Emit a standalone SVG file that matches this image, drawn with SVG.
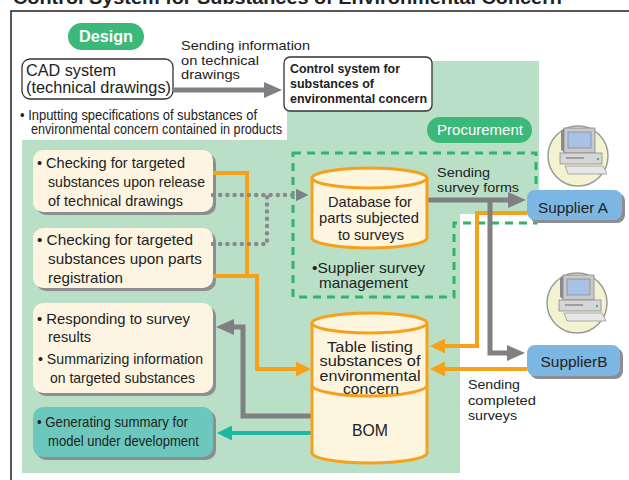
<svg xmlns="http://www.w3.org/2000/svg" width="629" height="480" viewBox="0 0 629 480">
<style>
text{font-family:"Liberation Sans",Arial,sans-serif;fill:#222}
.bx{font-size:15px}
.tb{font-size:14px}
.sm{font-size:13.5px}
.wh{fill:#fff}
.cyl{fill:#fdf5de;stroke:#f7a11a;stroke-width:3}
.card{fill:#fdf5e1}
.shd{fill:#8e8e92}
.sup{fill:#7cb6e3}
.gl{fill:none;stroke:#7f7f84;stroke-width:5}
.ol{fill:none;stroke:#f7a11a;stroke-width:4}
.tl{fill:none;stroke:#1db7a2;stroke-width:4}
.dl{fill:none;stroke:#8a8a8e;stroke-width:4.5;stroke-linecap:round;stroke-dasharray:0 7.2}
</style>
<defs>
<marker id="ag" markerUnits="userSpaceOnUse" viewBox="0 0 18 16" markerWidth="18" markerHeight="16" refX="1" refY="8" orient="auto"><path d="M0,0 L18,8 L0,16 Z" fill="#7f7f84"/></marker>
<marker id="ad" markerUnits="userSpaceOnUse" viewBox="0 0 13 13" markerWidth="13" markerHeight="13" refX="1" refY="6.5" orient="auto"><path d="M0,0 L13,6.5 L0,13 Z" fill="#7f7f84"/></marker>
<marker id="ao" markerUnits="userSpaceOnUse" viewBox="0 0 15 15" markerWidth="15" markerHeight="15" refX="1" refY="7.5" orient="auto"><path d="M0,0 L15,7.5 L0,15 Z" fill="#f7a11a"/></marker>
<marker id="at" markerUnits="userSpaceOnUse" viewBox="0 0 15 15" markerWidth="15" markerHeight="15" refX="1" refY="7.5" orient="auto"><path d="M0,0 L15,7.5 L0,15 Z" fill="#1db7a2"/></marker>
<g id="pc">
<circle cx="0" cy="0" r="30" fill="#f3f3d1" stroke="#9a9a9a" stroke-width="1.5"/>
<polygon points="-17,-24 -14,-28 -14,-4 -17,-6" fill="#8a8a8f"/>
<rect x="-14" y="-28" width="31" height="25" fill="#c9c9cc" stroke="#8a8a8a" stroke-width="0.8"/>
<rect x="-10" y="-24" width="23" height="16" fill="#a9c1e4" stroke="#7a7a80" stroke-width="0.6"/>
<rect x="-18" y="-3" width="42" height="11" fill="#d6d6d8" stroke="#8a8a8a" stroke-width="0.8"/>
<line x1="-12" y1="2" x2="6" y2="2" stroke="#666" stroke-width="1"/>
<circle cx="20" cy="3" r="1.2" fill="#3c3"/>
<polygon points="-13,10 25,10 29,18 -10,18" fill="#e6e6e8" stroke="#999" stroke-width="0.8"/>
</g>
</defs>
<rect width="629" height="480" fill="#fff"/>
<text x="13" y="4" font-size="18" font-weight="bold" textLength="549" lengthAdjust="spacingAndGlyphs">Control System for Substances of Environmental Concern</text>
<path d="M11,480 V11 H629" fill="none" stroke="#222" stroke-width="1.5"/>
<polygon points="287,61 539,61 539,214 460,214 460,473 22,473 22,140 287,140" fill="#b9e0c6"/>
<polygon points="293,153 536,153 536,223 454,223 454,297 293,297" fill="none" stroke="#2fb46a" stroke-width="3" stroke-dasharray="8 6"/>

<g id="design-label">
<rect x="68" y="23" width="76" height="27" rx="13.5" fill="#3cb878"/>
<text x="106" y="42" font-size="16" font-weight="bold" class="wh" text-anchor="middle" textLength="54" lengthAdjust="spacingAndGlyphs">Design</text>
</g>
<g id="procurement-label">
<rect x="427" y="117" width="105" height="26" rx="13" fill="#3cb878"/>
<text x="480" y="135" font-size="15" class="wh" text-anchor="middle" textLength="86" lengthAdjust="spacingAndGlyphs">Procurement</text>
</g>

<g id="cad">
<rect x="22" y="59" width="151" height="40" rx="8" fill="#fff" stroke="#333" stroke-width="1.3"/>
<text x="26" y="76" font-size="16" textLength="90" lengthAdjust="spacingAndGlyphs">CAD system</text>
<text x="26" y="93" font-size="16" textLength="145" lengthAdjust="spacingAndGlyphs">(technical drawings)</text>
</g>
<g id="cad-note">
<text x="20" y="120" font-size="14" textLength="237" lengthAdjust="spacingAndGlyphs">• Inputting specifications of substances of</text>
<text x="31" y="134" font-size="14" textLength="251" lengthAdjust="spacingAndGlyphs">environmental concern contained in products</text>
</g>
<g id="control-system">
<rect x="284" y="57" width="148" height="54" rx="6" fill="#fff" stroke="#333" stroke-width="1.3"/>
<text x="290" y="73" font-size="13" font-weight="bold" textLength="110" lengthAdjust="spacingAndGlyphs">Control system for</text>
<text x="290" y="88" font-size="13" font-weight="bold" textLength="84" lengthAdjust="spacingAndGlyphs">substances of</text>
<text x="290" y="103" font-size="13" font-weight="bold" textLength="137" lengthAdjust="spacingAndGlyphs">environmental concern</text>
</g>
<g id="label-sending-info">
<text x="181" y="50" class="sm" textLength="129" lengthAdjust="spacingAndGlyphs">Sending information</text>
<text x="181" y="65" class="sm" textLength="78" lengthAdjust="spacingAndGlyphs">on technical</text>
<text x="181" y="79" class="sm" textLength="59" lengthAdjust="spacingAndGlyphs">drawings</text>
</g>

<g id="check-release">
<rect x="36" y="153" width="180" height="62" rx="10" class="shd"/>
<rect x="33" y="150" width="180" height="62" rx="10" class="card"/>
<text x="37" y="168" class="bx" textLength="148" lengthAdjust="spacingAndGlyphs">• Checking for targeted</text>
<text x="48" y="187" class="bx" textLength="157" lengthAdjust="spacingAndGlyphs">substances upon release</text>
<text x="48" y="206" class="bx" textLength="135" lengthAdjust="spacingAndGlyphs">of technical drawings</text>
</g>
<g id="check-parts">
<rect x="36" y="231" width="180" height="60" rx="10" class="shd"/>
<rect x="33" y="228" width="180" height="60" rx="10" class="card"/>
<text x="37" y="245" class="bx" textLength="156" lengthAdjust="spacingAndGlyphs">• Checking for targeted</text>
<text x="48" y="264" class="bx" textLength="154" lengthAdjust="spacingAndGlyphs">substances upon parts</text>
<text x="48" y="283" class="bx" textLength="75" lengthAdjust="spacingAndGlyphs">registration</text>
</g>
<g id="responding">
<rect x="36" y="306" width="180" height="90" rx="10" class="shd"/>
<rect x="33" y="303" width="180" height="90" rx="10" class="card"/>
<text x="37" y="324" class="bx" textLength="153" lengthAdjust="spacingAndGlyphs">• Responding to survey</text>
<text x="48" y="342" class="bx" textLength="43" lengthAdjust="spacingAndGlyphs">results</text>
<text x="38" y="364" class="bx" textLength="165" lengthAdjust="spacingAndGlyphs">• Summarizing information</text>
<text x="50" y="383" class="bx" textLength="145" lengthAdjust="spacingAndGlyphs">on targeted substances</text>
</g>
<g id="generating">
<rect x="36" y="410" width="180" height="50" rx="10" class="shd"/>
<rect x="33" y="407" width="180" height="50" rx="10" fill="#6cc8bc"/>
<text x="37" y="427" class="bx" textLength="151" lengthAdjust="spacingAndGlyphs">• Generating summary for</text>
<text x="48" y="446" class="bx" textLength="151" lengthAdjust="spacingAndGlyphs">model under development</text>
</g>

<g id="connectors">
<path class="gl" d="M173,90 H265" marker-end="url(#ag)"/>
<path class="ol" d="M213,173 H247 V276"/>
<path class="ol" d="M213,276 H257 V369 H297" marker-end="url(#ao)"/>
<path class="dl" d="M213,195 H295"/>
<path d="M296,195 H296.5" fill="none" stroke="none" marker-end="url(#ad)"/>
<path class="dl" d="M213,244 H267 V195"/>
<path class="ol" d="M527,213 H477 V346 H444" marker-end="url(#ao)"/>
<path class="ol" d="M527,369 H444" marker-end="url(#ao)"/>
<path class="gl" d="M427,200 H509" marker-end="url(#ag)"/>
<path class="gl" d="M490,200 V353 H508" marker-end="url(#ag)"/>
<path class="gl" d="M312,416 H243 V327 H233" marker-end="url(#ag)"/>
<path class="tl" d="M312,433 H231" marker-end="url(#at)"/>
</g>

<g id="database">
<path class="cyl" d="M312,178 A57.5,10 0 0 1 427,178 V238 A57.5,10 0 0 1 312,238 Z"/>
<path class="cyl" fill="none" d="M312,178 A57.5,10 0 0 0 427,178"/>
<text x="370" y="207" class="bx" text-anchor="middle" textLength="84" lengthAdjust="spacingAndGlyphs">Database for</text>
<text x="369" y="223" class="bx" text-anchor="middle" textLength="100" lengthAdjust="spacingAndGlyphs">parts subjected</text>
<text x="371" y="240" class="bx" text-anchor="middle" textLength="66" lengthAdjust="spacingAndGlyphs">to surveys</text>
</g>
<g id="survey-mgmt">
<text x="312" y="273" class="bx" textLength="113" lengthAdjust="spacingAndGlyphs">•Supplier survey</text>
<text x="319" y="288" class="bx" textLength="89" lengthAdjust="spacingAndGlyphs">management</text>
</g>
<g id="label-survey-forms">
<text x="437" y="177" class="sm" textLength="53" lengthAdjust="spacingAndGlyphs">Sending</text>
<text x="437" y="192" class="sm" textLength="82" lengthAdjust="spacingAndGlyphs">survey forms</text>
</g>
<g id="table-bom">
<path class="cyl" d="M312,323 A57.5,10 0 0 1 427,323 V453 A57.5,10 0 0 1 312,453 Z"/>
<path class="cyl" fill="none" d="M312,323 A57.5,10 0 0 0 427,323"/>
<path class="cyl" fill="none" d="M312,385 A57.5,11 0 0 0 427,385"/>
<text x="370" y="352" class="tb" text-anchor="middle" textLength="86" lengthAdjust="spacingAndGlyphs">Table listing</text>
<text x="370" y="366" class="tb" text-anchor="middle" textLength="101" lengthAdjust="spacingAndGlyphs">substances of</text>
<text x="370" y="381" class="tb" text-anchor="middle" textLength="101" lengthAdjust="spacingAndGlyphs">environmental</text>
<text x="371" y="394" class="tb" text-anchor="middle" textLength="56" lengthAdjust="spacingAndGlyphs">concern</text>
<text x="370" y="436" font-size="16" text-anchor="middle" textLength="36" lengthAdjust="spacingAndGlyphs">BOM</text>
</g>
<g id="supplier-a">
<use href="#pc" x="578" y="156"/>
<rect x="530" y="193" width="95" height="30" rx="8" class="shd"/>
<rect x="527" y="190" width="95" height="30" rx="8" class="sup"/>
<text x="573" y="213" class="bx" text-anchor="middle" textLength="70" lengthAdjust="spacingAndGlyphs">Supplier A</text>
</g>
<g id="supplier-b">
<use href="#pc" x="577" y="303"/>
<rect x="530" y="348" width="93" height="31" rx="8" class="shd"/>
<rect x="527" y="345" width="93" height="31" rx="8" class="sup"/>
<text x="574" y="367" class="bx" text-anchor="middle" textLength="67" lengthAdjust="spacingAndGlyphs">SupplierB</text>
</g>
<g id="label-completed">
<text x="468" y="389" class="sm" textLength="52" lengthAdjust="spacingAndGlyphs">Sending</text>
<text x="468" y="405" class="sm" textLength="68" lengthAdjust="spacingAndGlyphs">completed</text>
<text x="468" y="420" class="sm" textLength="49" lengthAdjust="spacingAndGlyphs">surveys</text>
</g>
</svg>
